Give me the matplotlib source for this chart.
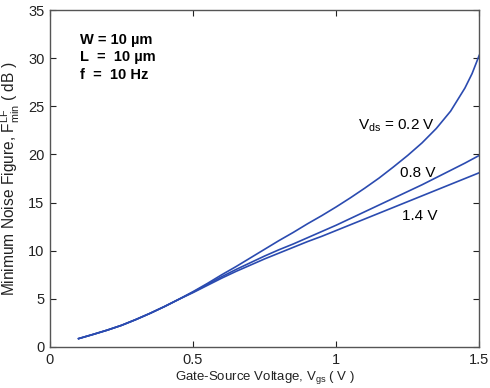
import matplotlib
matplotlib.use("Agg")
import matplotlib.pyplot as plt

plt.rcParams['font.family'] = ['Liberation Sans', 'DejaVu Sans']
plt.rcParams['mathtext.fontset'] = 'custom'
plt.rcParams['mathtext.rm'] = 'Liberation Sans'
plt.rcParams['mathtext.it'] = 'Liberation Sans'

# Gate-source voltage samples (V)
vgs = [0.10, 0.15, 0.20, 0.25, 0.30, 0.35, 0.40, 0.45, 0.50, 0.55, 0.60, 0.65,
       0.70, 0.75, 0.80, 0.85, 0.90, 0.95, 1.00, 1.05, 1.10, 1.15, 1.20, 1.25,
       1.30, 1.35, 1.40, 1.45, 1.475, 1.50]

# Minimum noise figure (dB) for each Vds
nf_vds_02 = [0.87, 1.30, 1.75, 2.25, 2.85, 3.50, 4.20, 4.95, 5.75, 6.60, 7.50, 8.35,
             9.25, 10.15, 11.05, 11.90, 12.80, 13.65, 14.55, 15.50, 16.50, 17.55, 18.70, 19.90,
             21.20, 22.70, 24.50, 26.90, 28.40, 30.30]
nf_vds_08 = [0.87, 1.30, 1.75, 2.25, 2.85, 3.50, 4.20, 4.95, 5.70, 6.50, 7.30, 8.05,
             8.75, 9.45, 10.10, 10.70, 11.35, 12.00, 12.65, 13.35, 14.05, 14.75, 15.45, 16.15,
             16.85, 17.60, 18.35, 19.10, 19.50, 19.90]
nf_vds_14 = [0.87, 1.30, 1.75, 2.25, 2.85, 3.50, 4.20, 4.95, 5.65, 6.40, 7.15, 7.85,
             8.50, 9.15, 9.75, 10.35, 10.95, 11.50, 12.10, 12.70, 13.30, 13.90, 14.50, 15.10,
             15.70, 16.30, 16.90, 17.50, 17.80, 18.10]

xticks = [0, 0.5, 1, 1.5]
xticklabels = ['0', '0.5', '1', '1.5']
yticks = [0, 5, 10, 15, 20, 25, 30, 35]

fig = plt.figure(figsize=(4.9, 3.88), dpi=100)
ax = fig.add_axes([0.102, 0.1057, 0.876, 0.8683])

color = '#2b4bb0'
for nf in (nf_vds_02, nf_vds_08, nf_vds_14):
    ax.plot(vgs, nf, color=color, lw=1.2)

ax.set_xlim(0, 1.5)
ax.set_ylim(0, 35)
ax.set_xticks(xticks)
ax.set_xticklabels(xticklabels)
ax.set_yticks(yticks)
ax.tick_params(direction='in', top=True, right=True, labelsize=10.5,
               colors='#222222', length=4, width=0.8, pad=4)
for s in ax.spines.values():
    s.set_color('#555555')
    s.set_linewidth(1.0)

ax.set_xlabel(r'Gate-Source Voltage, V$_{\mathregular{gs}}$ ( V )', fontsize=9.5,
              color='#222222', labelpad=2)
ax.set_ylabel(r'Minimum Noise Figure, F$_{\mathregular{min}}^{\mathregular{LF}}$ ( dB )',
              fontsize=11.2, color='#222222', labelpad=4)

ax.text(0.105, 31.9, 'W = 10 \u00b5m', fontsize=10.5, fontweight='bold', va='center')
ax.text(0.105, 30.1, 'L  =  10 \u00b5m', fontsize=10.5, fontweight='bold', va='center')
ax.text(0.105, 28.3, 'f  =  10 Hz', fontsize=10.5, fontweight='bold', va='center')

ax.text(1.077, 23.0, r'V$_{\mathregular{ds}}$ = 0.2 V', fontsize=11, va='center')
ax.text(1.224, 18.1, '0.8 V', fontsize=11, va='center')
ax.text(1.231, 13.6, '1.4 V', fontsize=11, va='center')

fig.savefig('out.png', dpi=100)
